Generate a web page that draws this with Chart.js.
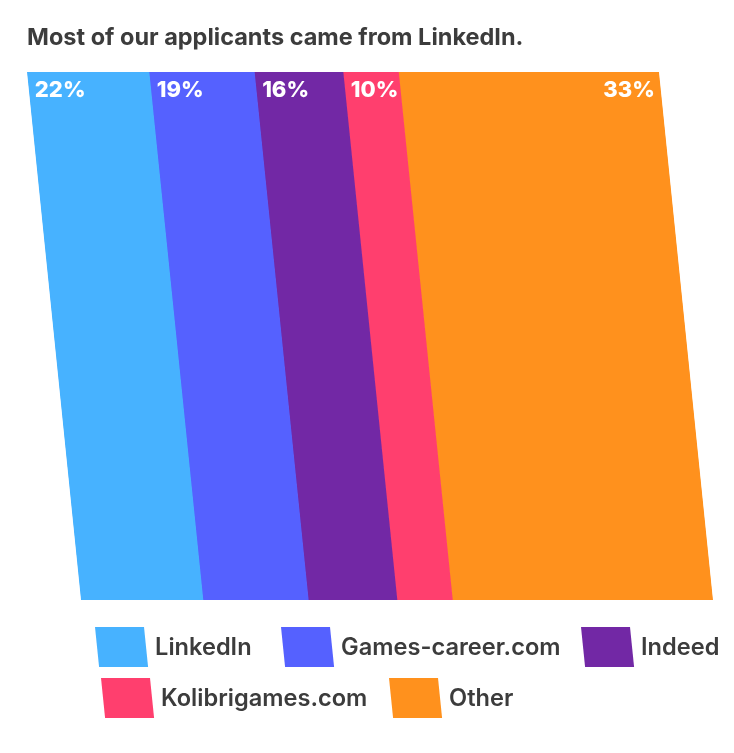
<!DOCTYPE html>
<html>
<head>
<meta charset="utf-8">
<script src="https://cdn.jsdelivr.net/npm/chart.js@4.4.0/dist/chart.umd.min.js"></script>
<style>
  html, body { margin: 0; padding: 0; background: #fff; }
  #wrap { width: 734px; height: 753px; position: relative; }
</style>
</head>
<body>
<div id="wrap"><canvas id="sourceChart"></canvas></div>
<script>
const sources = ["LinkedIn", "Games-career.com", "Indeed", "Kolibrigames.com", "Other"];
const shareLabels = ["22%", "19%", "16%", "10%", "33%"];
// segment widths as drawn in the picture (Other is drawn wider than its label)
const barWidths = [22, 19, 16, 10, 47];
const colors = ["#47b2ff", "#5561ff", "#7228a5", "#ff3f6e", "#ff911d"];

const title = "Most of our applicants came from LinkedIn.";
const textColor = "#3c3c3c";

// slant of the bars: 54px of drift over 528px of height
const slant = 54 / 528;

const total = barWidths.reduce((s, v) => s + v, 0);

// legend grid positions (layout only)
const legendSlots = [
  { x: 95, y: 627 }, { x: 281, y: 627 }, { x: 581, y: 627 },
  { x: 101, y: 678 }, { x: 389, y: 678 }
];

const skewPlugin = {
  id: "skew",
  beforeDatasetsDraw(chart) {
    const ctx = chart.ctx;
    const top = chart.chartArea.top;
    ctx.save();
    ctx.transform(1, 0, slant, 1, -slant * top, 0);
  },
  afterDatasetsDraw(chart) {
    chart.ctx.restore();
  },
  afterDraw(chart) {
    const ctx = chart.ctx;
    const top = chart.chartArea.top;

    // title
    ctx.save();
    ctx.fillStyle = textColor;
    ctx.font = "700 23.5px Inter";
    ctx.textBaseline = "middle";
    ctx.textAlign = "left";
    ctx.fillText(title, 27, 38);
    ctx.restore();

    // value labels
    ctx.save();
    ctx.fillStyle = "#fff";
    ctx.font = "800 22px Inter";
    ctx.textBaseline = "middle";
    const ly = top + 18;
    const drift = slant * (ly - top);
    chart.data.datasets.forEach((ds, i) => {
      const bar = chart.getDatasetMeta(i).data[0];
      const left = Math.min(bar.base, bar.x);
      const right = Math.max(bar.base, bar.x);
      if (i === chart.data.datasets.length - 1) {
        ctx.textAlign = "right";
        ctx.fillText(shareLabels[i], right + drift - 6, ly);
      } else {
        ctx.textAlign = "left";
        ctx.fillText(shareLabels[i], left + drift + 6, ly);
      }
    });
    ctx.restore();

    // legend
    ctx.save();
    ctx.font = "600 23.6px Inter";
    ctx.textBaseline = "middle";
    ctx.textAlign = "left";
    const bw = 49, bh = 40, lean = slant * bh;
    sources.forEach((name, i) => {
      const s = legendSlots[i];
      ctx.fillStyle = colors[i];
      ctx.beginPath();
      ctx.moveTo(s.x, s.y);
      ctx.lineTo(s.x + bw, s.y);
      ctx.lineTo(s.x + bw + lean, s.y + bh);
      ctx.lineTo(s.x + lean, s.y + bh);
      ctx.closePath();
      ctx.fill();
      ctx.fillStyle = textColor;
      ctx.fillText(name, s.x + bw + lean + 7, s.y + bh / 2 + 1);
    });
    ctx.restore();
  }
};

new Chart(document.getElementById("sourceChart"), {
  type: "bar",
  data: {
    labels: ["Applicants"],
    datasets: sources.map((name, i) => ({
      label: name,
      data: [barWidths[i]],
      backgroundColor: colors[i],
      borderWidth: 0,
      barPercentage: 1,
      categoryPercentage: 1
    }))
  },
  options: {
    indexAxis: "y",
    responsive: true,
    maintainAspectRatio: false,
    animation: false,
    layout: {
      padding: { left: 27, right: 75, top: 72, bottom: 153 }
    },
    scales: {
      x: { stacked: true, min: 0, max: total, display: false },
      y: { stacked: true, display: false }
    },
    plugins: {
      legend: { display: false },
      tooltip: { enabled: false }
    }
  },
  plugins: [skewPlugin]
});
</script>
</body>
</html>
